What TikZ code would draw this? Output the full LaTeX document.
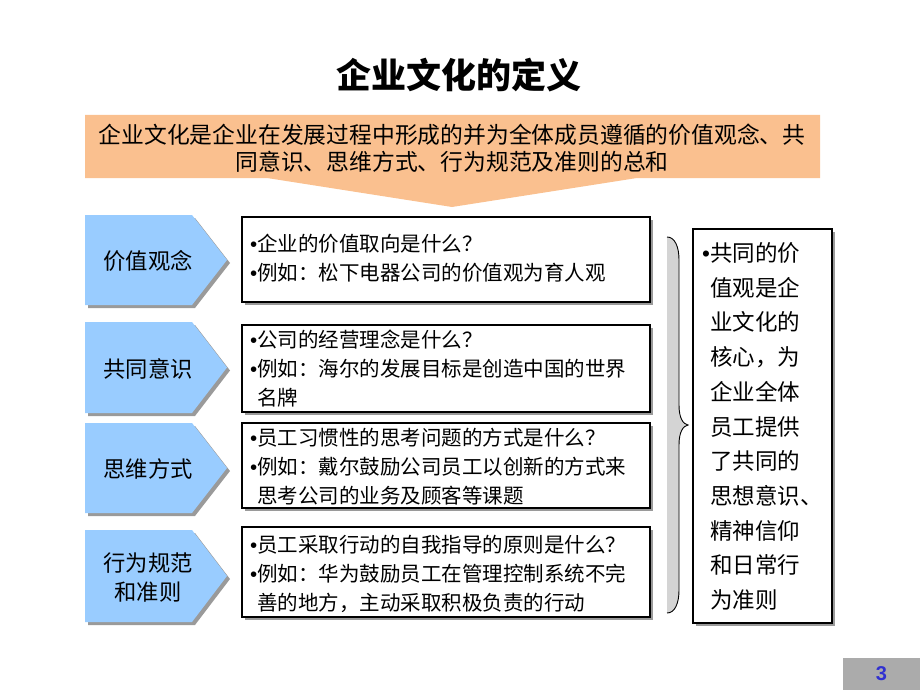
\documentclass[tikz,border=0pt]{standalone}
\usepackage{fontspec}
\setmainfont{Liberation Sans}
\newfontfamily\cjk{Noto Sans CJK SC}
\usetikzlibrary{shadows}
\definecolor{peach}{HTML}{FAC08F}
\definecolor{chev}{HTML}{99CCFF}
\definecolor{shad}{HTML}{9A9A9A}
\definecolor{pggray}{HTML}{ABABAB}
\definecolor{pgnum}{HTML}{3030D0}
\definecolor{bracegray}{HTML}{D4D4D4}
\newcommand\bul{{\rmfamily •}}
\newcommand\bulsp{\hphantom{\rmfamily •}}
\begin{document}
\begin{tikzpicture}[x=1pt,y=-1pt,
  framebox/.style={draw=black, line width=2.6pt, fill=white, inner sep=0pt,
    drop shadow={shadow xshift=3pt, shadow yshift=-3pt, fill=shad, opacity=1}},
  boxtext/.style={anchor=west, align=left, inner sep=0pt, font={\cjk\fontsize{20.5}{29}\selectfont}},
  chevlabel/.style={align=center, inner sep=0pt, font={\cjk\fontsize{22.3}{29}\selectfont}},
]
\useasboundingbox (0,0) rectangle (920,690);

% title
\node (title) at (459,75) {\cjk\bfseries\fontsize{35}{40}\selectfont 企业文化的定义};

% banner
\fill[peach] (85,115) -- (820,115) -- (820,178) -- (637,178) -- (452,207) -- (267,178) -- (85,178) -- cycle;
\node[align=center, inner sep=0pt, font={\cjk\fontsize{22.8}{27}\selectfont}] (def) at (452,148.5)
  {企业文化是企业在发展过程中形成的并为全体成员遵循的价值观念、共\\同意识、思维方式、行为规范及准则的总和};

% chevrons
\foreach \t/\b in {215/305, 322/413, 423/513, 530/622}{
  \pgfmathsetmacro\m{(\t+\b)/2}
  \fill[shad] (88,{\t+3}) -- (195,{\t+3}) -- (230,{\m+3}) -- (195,{\b+3}) -- (88,{\b+3}) -- cycle;
  \fill[chev] (85,\t) -- (192,\t) -- (227,\m) -- (192,\b) -- (85,\b) -- cycle;
}
\node[chevlabel] (c1) at (148,261) {价值观念};
\node[chevlabel] (c2) at (148,369) {共同意识};
\node[chevlabel] (c3) at (148,469) {思维方式};
\node[chevlabel] (c4) at (148,577.5) {行为规范\\和准则};

% boxes
\node[framebox, minimum width=408pt, minimum height=85pt] (b1) at (446,259.5) {};
\node[framebox, minimum width=408pt, minimum height=87pt] (b2) at (446,368.5) {};
\node[framebox, minimum width=408pt, minimum height=85pt] (b3) at (446,465.5) {};
\node[framebox, minimum width=408pt, minimum height=90pt] (b4) at (446,572) {};
\node[framebox, minimum width=139pt, minimum height=394pt] (rb) at (762.5,426) {};

\node[boxtext] (t1) at (250,258.5) {\bul 企业的价值取向是什么？\\\bul 例如：松下电器公司的价值观为育人观};
\node[boxtext] (t2) at (250,369) {\bul 公司的经营理念是什么？\\\bul 例如：海尔的发展目标是创造中国的世界\\\bulsp 名牌};
\node[boxtext] (t3) at (250,466.5) {\bul 员工习惯性的思考问题的方式是什么？\\\bul 例如：戴尔鼓励公司员工以创新的方式来\\\bulsp 思考公司的业务及顾客等课题};
\node[boxtext] (t4) at (250,574) {\bul 员工采取行动的自我指导的原则是什么？\\\bul 例如：华为鼓励员工在管理控制系统不完\\\bulsp 善的地方，主动采取积极负责的行动};

\node[anchor=west, align=left, inner sep=0pt, font={\cjk\fontsize{22.5}{34.7}\selectfont}] (rt) at (702,426.5)
  {\bul 共同的价\\\bulsp 值观是企\\\bulsp 业文化的\\\bulsp 核心，为\\\bulsp 企业全体\\\bulsp 员工提供\\\bulsp 了共同的\\\bulsp 思想意识、\\\bulsp 精神信仰\\\bulsp 和日常行\\\bulsp 为准则};

% brace
\fill[bracegray] (667,237) .. controls (675,237) and (679,247) .. (679,260) -- (679,405)
  .. controls (679,418) and (683,424) .. (688,425) .. controls (683,426) and (679,432) .. (679,445)
  -- (679,590) .. controls (679,603) and (675,613) .. (667,613) -- cycle;
\draw[line width=0.9pt] (667,237) .. controls (675,237) and (679,247) .. (679,260) -- (679,405)
  .. controls (679,418) and (683,424) .. (688,425) .. controls (683,426) and (679,432) .. (679,445)
  -- (679,590) .. controls (679,603) and (675,613) .. (667,613);

% page number
\node[fill=pggray, minimum width=77pt, minimum height=32pt, inner sep=0pt,
  text=pgnum, font={\bfseries\fontsize{20}{22}\selectfont}] (pg) at (881.5,674) {3};
\end{tikzpicture}
\end{document}
